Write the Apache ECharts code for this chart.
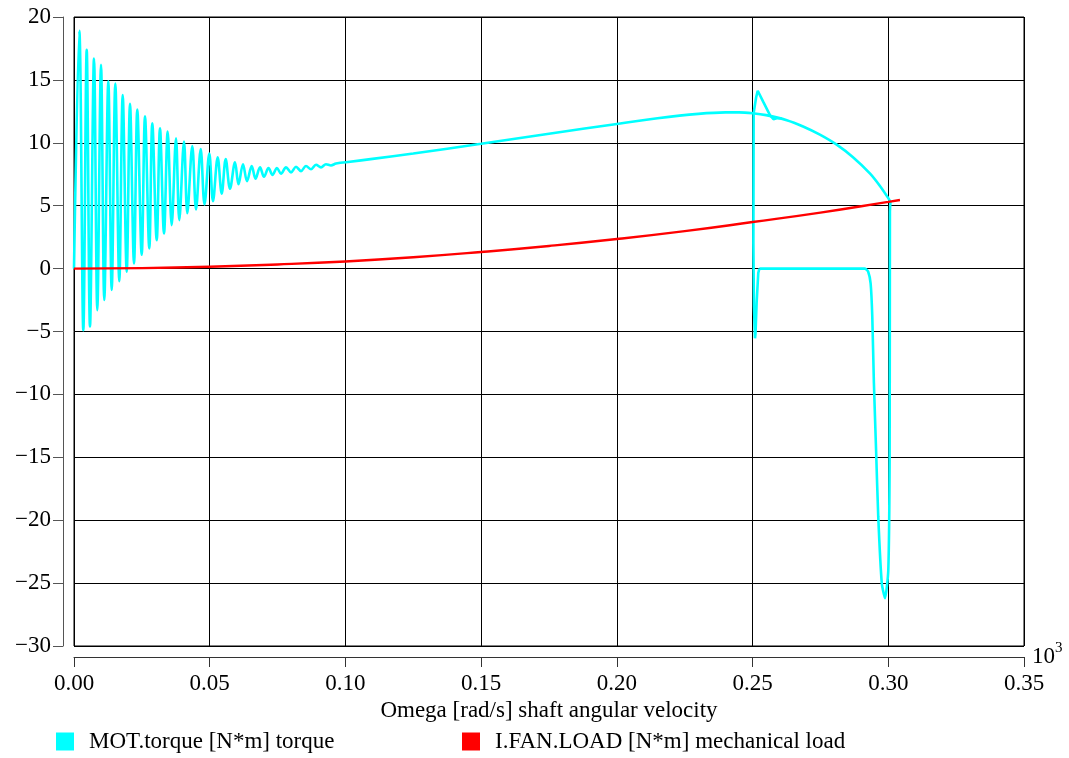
<!DOCTYPE html>
<html>
<head>
<meta charset="utf-8">
<title>Fan drive: torque vs shaft speed</title>
<script src="https://cdn.jsdelivr.net/npm/echarts@6/dist/echarts.min.js"></script>
<style>
  html, body { margin: 0; padding: 0; background: #ffffff; }
  #chart { width: 1069px; height: 758px; }
</style>
</head>
<body>
<div id="chart"></div>
<script>
// Shaft speed in units of 10^3 rad/s, torque in N*m.

// Run-up: damped torque oscillation while the motor starts
const runupOmega = [0, 0.00195, 0.00343, 0.00468, 0.00589, 0.00737, 0.00858, 0.00995, 0.01116, 0.01264,
  0.01389, 0.01522, 0.01669, 0.01794, 0.01942, 0.02063, 0.02211, 0.02332, 0.02494, 0.02616,
  0.02774, 0.02885, 0.03047, 0.03168, 0.03316, 0.03452, 0.03599, 0.03758, 0.03879, 0.04053,
  0.04174, 0.04358, 0.04495, 0.04668, 0.04808, 0.04985, 0.05121, 0.05294, 0.05442, 0.05589,
  0.05747, 0.05932, 0.06061, 0.06226, 0.06374, 0.06547, 0.06687, 0.06853, 0.07000, 0.07166,
  0.07313, 0.07479, 0.07626, 0.07811, 0.07995, 0.08179, 0.08363, 0.08547, 0.08732, 0.08916,
  0.09100, 0.09284, 0.09468, 0.09653, 0.10021];
const runupTorque = [0, 18.9, -4.9, 17.4, -4.6, 16.7, -3.3, 16.2, -2.5, 14.9,
  -1.7, 14.7, -1.0, 13.8, -0.25, 13.1, 0.4, 12.65, 1.1, 12.1,
  1.6, 11.55, 2.25, 11.15, 2.8, 10.9, 3.45, 10.35, 3.85, 10.1,
  4.4, 9.75, 4.7, 9.5, 5.1, 9.15, 5.35, 8.85, 5.95, 8.7,
  6.35, 8.45, 6.7, 8.3, 6.95, 8.15, 7.15, 8.05, 7.3, 8.0,
  7.45, 8.0, 7.55, 8.05, 7.65, 8.1, 7.75, 8.15, 7.9, 8.25,
  8.05, 8.3, 8.2, 8.35, 8.45];

// Acceleration along the steady torque-speed curve up to the operating point
const sweepOmega = [0.10021, 0.11, 0.125, 0.15, 0.175, 0.20, 0.215, 0.23, 0.24, 0.245,
  0.25, 0.255, 0.2626, 0.2686, 0.2748, 0.2810, 0.2870, 0.2933, 0.2970, 0.3000, 0.3008];
const sweepTorque = [8.45, 8.72, 9.15, 9.92, 10.72, 11.5, 11.95, 12.3, 12.42, 12.42,
  12.35, 12.2, 11.8, 11.3, 10.65, 9.85, 8.85, 7.55, 6.55, 5.6, 5.3];

// Switch-off: braking spike, then coast-down at zero torque
const tripOmega = [0.3008, 0.3006, 0.3005, 0.3000, 0.2988, 0.2976, 0.2963, 0.2955, 0.2947, 0.2941,
  0.2935, 0.2926, 0.2914, 0.2525];
const tripTorque = [5.3, 4.5, -15, -24, -26.2, -25.0, -19.7, -14.4, -9.1, -3.8,
  -1.2, -0.25, 0, 0];

// Reconnection: short dip, overshoot, return to the curve
const restartOmega = [0.2525, 0.2521, 0.2515, 0.2511, 0.2509, 0.2505, 0.2503, 0.2504, 0.2513, 0.2519,
  0.2539, 0.2564, 0.2577, 0.2589, 0.2607];
const restartTorque = [0, -0.35, -2.7, -5.1, -5.54, -3.0, 2.0, 12.37, 13.6, 14.14,
  13.27, 12.2, 11.87, 11.95, 11.95];

// Fan load torque
const loadOmega = [0, 0.025, 0.05, 0.075, 0.10, 0.125, 0.15, 0.175, 0.20, 0.225, 0.25, 0.275, 0.30, 0.3043];
const loadTorque = [0, 0.04, 0.15, 0.33, 0.57, 0.9, 1.32, 1.8, 2.35, 2.98, 3.7, 4.45, 5.3, 5.45];

const xTicks = { min: 0, max: 0.35, step: 0.05 };
const yTicks = { min: -30, max: 20, step: 5 };

const torqueName = 'MOT.torque [N*m] torque';
const loadName = 'I.FAN.LOAD [N*m] mechanical load';
const xTitle = 'Omega [rad/s] shaft angular velocity';

const pairs = (xs, ys) => xs.map((x, i) => [x, ys[i]]);
const serif = "'Liberation Serif', 'Times New Roman', serif";
const fs = 23;
const minus = v => String(v).replace('-', '\u2212');

const chart = echarts.init(document.getElementById('chart'), null, { renderer: 'canvas' });

const cyanLine = { color: '#00ffff', width: 2.6 };

const legendBase = {
  top: 730, icon: 'rect', itemWidth: 18, itemHeight: 18, padding: 0,
  textStyle: { fontFamily: serif, fontSize: fs, color: '#000', padding: [0, 0, 0, 10] },
  selectedMode: false
};

chart.setOption({
  animation: false,
  backgroundColor: '#ffffff',
  textStyle: { fontFamily: serif },
  grid: {
    left: 74, right: 45, top: 17, bottom: 112,
    show: true, borderColor: '#000', borderWidth: 1, backgroundColor: 'transparent'
  },
  legend: [
    Object.assign({ data: [torqueName], left: 56 }, legendBase),
    Object.assign({ data: [loadName], left: 462 }, legendBase)
  ],
  xAxis: {
    type: 'value', min: xTicks.min, max: xTicks.max, interval: xTicks.step,
    offset: 11,
    name: xTitle, nameLocation: 'middle', nameGap: 38,
    nameTextStyle: { fontFamily: serif, fontSize: fs, color: '#000' },
    axisLine: { show: true, onZero: false, lineStyle: { color: '#333', width: 1 } },
    axisTick: { show: true, length: 10, lineStyle: { color: '#333' } },
    axisLabel: { fontFamily: serif, fontSize: fs, color: '#000', margin: 15, formatter: v => v.toFixed(2) },
    splitLine: { show: true, lineStyle: { color: '#000', width: 1 } }
  },
  yAxis: {
    type: 'value', min: yTicks.min, max: yTicks.max, interval: yTicks.step,
    offset: 11,
    axisLine: { show: true, onZero: false, lineStyle: { color: '#555', width: 1 } },
    axisTick: { show: true, length: 10, lineStyle: { color: '#555' } },
    axisLabel: { fontFamily: serif, fontSize: fs, color: '#000', margin: 12, formatter: v => minus(v) },
    splitLine: { show: true, lineStyle: { color: '#000', width: 1 } }
  },
  graphic: [
    { type: 'text', left: 1032, top: 645, style: { text: '10', font: fs + 'px ' + serif, fill: '#000' } },
    { type: 'text', left: 1055, top: 641, style: { text: '3', font: '15px ' + serif, fill: '#000' } }
  ],
  series: [
    {
      name: torqueName, type: 'line', showSymbol: false, smooth: 0.35, color: '#00ffff',
      lineStyle: cyanLine, data: pairs(runupOmega, runupTorque), z: 2
    },
    {
      name: torqueName, type: 'line', showSymbol: false, smooth: 0.3, color: '#00ffff',
      lineStyle: cyanLine, data: pairs(sweepOmega, sweepTorque), z: 2
    },
    {
      name: torqueName, type: 'line', showSymbol: false, smooth: 0.2, color: '#00ffff',
      lineStyle: cyanLine, data: pairs(tripOmega, tripTorque), z: 2
    },
    {
      name: torqueName, type: 'line', showSymbol: false, smooth: false, color: '#00ffff',
      lineStyle: cyanLine, data: pairs(restartOmega, restartTorque), z: 2
    },
    {
      name: loadName, type: 'line', showSymbol: false, smooth: true, color: '#ff0000',
      lineStyle: { color: '#ff0000', width: 2.4 }, data: pairs(loadOmega, loadTorque), z: 3
    }
  ]
});
</script>
</body>
</html>
